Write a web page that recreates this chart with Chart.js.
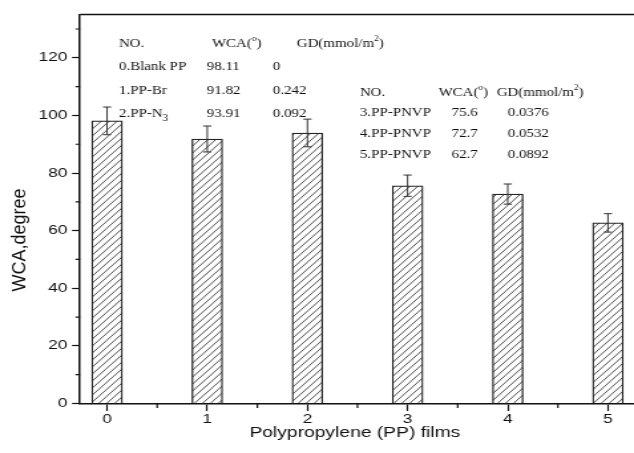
<!DOCTYPE html>
<html>
<head>
<meta charset="utf-8">
<script src="https://cdn.jsdelivr.net/npm/chart.js@4.4.0/dist/chart.umd.min.js"></script>
<style>
  html, body { margin: 0; padding: 0; background: #fff; overflow: hidden; width: 634px; height: 453px; }
  #grafico-wca { display: block; }
</style>
</head>
<body>
<canvas id="grafico-wca" width="480" height="453" style="width:638px;height:453px"></canvas>
<script>
// dados
const filmes = [0, 1, 2, 3, 4, 5]
const wca = [98.11, 91.82, 93.91, 75.6, 72.7, 62.7]
const erroWca = [4.8, 4.5, 4.8, 3.7, 3.5, 3.2]
const nomesFilmes = ['0.Blank PP', '1.PP-Br', '2.PP-N_3', '3.PP-PNVP', '4.PP-PNVP', '5.PP-PNVP']
const gd = ['0', '0.242', '0.092', '0.0376', '0.0532', '0.0892']
const cabecalho = ['NO.', 'WCA(^o)', 'GD(mmol/m^2)']
const ticksX = [0, 1, 2, 3, 4, 5]
const ticksY = [0, 20, 40, 60, 80, 100, 120]
const ticksMenoresX = [0.5, 1.5, 2.5, 3.5, 4.5]
const ticksMenoresY = [10, 30, 50, 70, 90, 110, 130]
const tituloX = 'Polypropylene (PP) films'
const tituloY = 'WCA,degree'

const fonteSans = '"Liberation Sans", Arial, sans-serif'
const fonteSerif = '"Liberation Serif", "Times New Roman", serif'

// padrao de hachura das barras
function criandoHachura() {
  const w = 6, h = 7
  const c = document.createElement('canvas')
  c.width = w
  c.height = h
  const g = c.getContext('2d')
  g.fillStyle = '#fff'
  g.fillRect(0, 0, w, h)
  g.strokeStyle = '#444'
  g.lineWidth = 0.9
  g.beginPath()
  for (const dx of [-w, 0, w]) {
    g.moveTo(dx - w * 0.5, h * 1.5)
    g.lineTo(dx + w * 1.5, -h * 0.5)
  }
  g.stroke()
  return g.createPattern(c, 'repeat')
}

// texto com ^ para sobrescrito e _ para subscrito
function textoRico(ctx, texto, x, y, tam) {
  const partes = texto.split(/([_^]\w)/).filter(p => p)
  ctx.save()
  ctx.translate(x, y)
  ctx.scale(0.9, 1)
  let cx = 0
  partes.forEach(p => {
    let t = p, s = tam, dy = 0
    if (p[0] === '^') { t = p.slice(1); s = tam * 0.62; dy = -tam * 0.45 }
    else if (p[0] === '_') { t = p.slice(1); s = tam * 0.75; dy = tam * 0.3 }
    ctx.font = `${s}px ${fonteSerif}`
    ctx.fillText(t, cx, dy)
    cx += ctx.measureText(t).width
  })
  ctx.restore()
}

const molduraTicks = {
  id: 'molduraTicks',
  afterDraw(chart) {
    const { ctx, chartArea: a } = chart
    const x = chart.scales.x, y = chart.scales.y
    ctx.save()
    ctx.strokeStyle = '#111'
    ctx.lineWidth = 1.5
    ctx.beginPath()
    ctx.moveTo(a.left, a.top)
    ctx.lineTo(a.right, a.top)
    ctx.lineTo(a.right, a.bottom)
    ctx.stroke()
    ctx.lineWidth = 1.2
    ctx.beginPath()
    ticksMenoresX.forEach(v => {
      const px = x.getPixelForValue(v)
      ctx.moveTo(px, a.bottom)
      ctx.lineTo(px, a.bottom + 4.5)
    })
    ticksMenoresY.forEach(v => {
      const py = y.getPixelForValue(v)
      ctx.moveTo(a.left, py)
      ctx.lineTo(a.left - 3.4, py)
    })
    ctx.stroke()
    ctx.restore()
  }
}

const barrasErro = {
  id: 'barrasErro',
  afterDatasetsDraw(chart) {
    const { ctx } = chart
    const y = chart.scales.y
    const meta = chart.getDatasetMeta(0)
    ctx.save()
    ctx.strokeStyle = '#333'
    ctx.lineWidth = 1
    meta.data.forEach((barra, i) => {
      const topo = y.getPixelForValue(wca[i] + erroWca[i])
      const base = y.getPixelForValue(wca[i] - erroWca[i])
      ctx.beginPath()
      ctx.moveTo(barra.x, topo)
      ctx.lineTo(barra.x, base)
      ctx.moveTo(barra.x - 3.1, topo)
      ctx.lineTo(barra.x + 3.1, topo)
      ctx.moveTo(barra.x - 3.1, base)
      ctx.lineTo(barra.x + 3.1, base)
      ctx.stroke()
    })
    ctx.restore()
  }
}

const textos = {
  id: 'textos',
  afterDraw(chart) {
    const { ctx } = chart
    ctx.save()
    ctx.fillStyle = '#111'
    ctx.textBaseline = 'alphabetic'
    // titulos dos eixos
    ctx.font = `14.5px ${fonteSans}`
    ctx.textAlign = 'center'
    ctx.fillText(tituloX, 267, 436.5)
    ctx.save()
    ctx.translate(19, 240)
    ctx.scale(0.82, 1)
    ctx.rotate(-Math.PI / 2)
    ctx.font = `18px ${fonteSans}`
    ctx.fillText(tituloY, 0, 0)
    ctx.restore()
    ctx.textAlign = 'left'
    // tabela da esquerda
    const tam = 12.5
    const colEsq = [89.5, 155.6, 205.3]
    const cabEsq = [89.5, 159.4, 223.3]
    const linhasEsq = [47, 70, 94, 117]
    cabecalho.forEach((t, j) => textoRico(ctx, t, cabEsq[j], linhasEsq[0], tam))
    for (let i = 0; i < 3; i++) {
      textoRico(ctx, nomesFilmes[i], colEsq[0], linhasEsq[i + 1], tam)
      textoRico(ctx, String(wca[i]), colEsq[1], linhasEsq[i + 1], tam)
      textoRico(ctx, gd[i], colEsq[2], linhasEsq[i + 1], tam)
    }
    // tabela da direita
    const colDir = [270.7, 339.8, 382]
    const cabDir = [270.7, 330, 373.7]
    const linhasDir = [96, 116, 137, 158]
    cabecalho.forEach((t, j) => textoRico(ctx, t, cabDir[j], linhasDir[0], tam))
    for (let i = 3; i < 6; i++) {
      textoRico(ctx, nomesFilmes[i], colDir[0], linhasDir[i - 2], tam)
      textoRico(ctx, String(wca[i]), colDir[1], linhasDir[i - 2], tam)
      textoRico(ctx, gd[i], colDir[2], linhasDir[i - 2], tam)
    }
    ctx.restore()
  }
}

const graficoWca = document.querySelector('#grafico-wca').getContext('2d')

new Chart(graficoWca, {
  type: 'bar',
  data: {
    datasets: [{
      label: 'WCA',
      data: filmes.map((f, i) => ({ x: f, y: wca[i] })),
      backgroundColor: criandoHachura(),
      borderColor: '#222',
      borderWidth: 1.3,
      barThickness: 23
    }]
  },
  options: {
    responsive: false,
    animation: false,
    events: [],
    layout: { padding: { top: 14.6, right: 0, left: 0, bottom: 0 } },
    plugins: {
      legend: { display: false },
      tooltip: { enabled: false }
    },
    scales: {
      x: {
        type: 'linear',
        offset: false,
        min: -0.27,
        max: 5.3,
        afterBuildTicks: eixo => { eixo.ticks = ticksX.map(v => ({ value: v })) },
        afterFit: eixo => { eixo.height = 49.5 },
        ticks: {
          padding: 1,
          color: '#111',
          font: { family: fonteSans, size: 13 },
          maxRotation: 0
        },
        grid: {
          offset: false,
          drawOnChartArea: false,
          tickLength: 7.5,
          tickColor: '#111',
          tickWidth: 1.2
        },
        border: { color: '#111', width: 1.5 }
      },
      y: {
        min: 0,
        max: 135,
        afterBuildTicks: eixo => { eixo.ticks = ticksY.map(v => ({ value: v })) },
        afterFit: eixo => { eixo.width = 60.2 },
        ticks: {
          padding: 3.5,
          color: '#111',
          font: { family: fonteSans, size: 13 }
        },
        grid: {
          drawOnChartArea: false,
          tickLength: 6,
          tickColor: '#111',
          tickWidth: 1.2
        },
        border: { color: '#111', width: 1.5 }
      }
    }
  },
  plugins: [molduraTicks, barrasErro, textos]
})
</script>
</body>
</html>
